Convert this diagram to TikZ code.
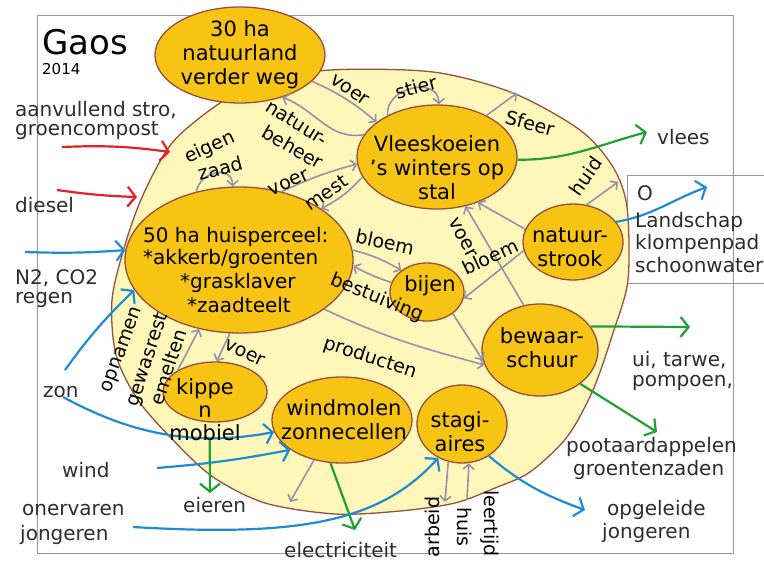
\documentclass[tikz,border=0pt]{standalone}
\usepackage{fontspec}
\setmainfont{DejaVu Sans}
\usetikzlibrary{arrows.meta,shapes.geometric}
\definecolor{org}{RGB}{247,196,20}
\definecolor{blobf}{RGB}{255,247,185}
\definecolor{brn}{RGB}{150,80,60}
\definecolor{gry}{RGB}{150,145,170}
\definecolor{grn}{RGB}{30,160,50}
\definecolor{blu}{RGB}{30,140,210}
\definecolor{rd}{RGB}{230,30,40}
\definecolor{txtgray}{RGB}{45,45,45}
\definecolor{frm}{RGB}{150,150,150}
\begin{document}
\begin{tikzpicture}[x=1pt,y=-1pt,
  ell/.style={ellipse,draw=brn,line width=1.3pt,fill=org,inner sep=0pt},
  ntxt/.style={font=\fontsize{21}{24}\selectfont,align=center,inner sep=0pt,text=black},
  htxt/.style={font=\fontsize{20}{22}\selectfont,inner sep=0pt,text=black,anchor=west},
  otxt/.style={font=\fontsize{20}{23}\selectfont,inner sep=0pt,text=txtgray,anchor=west},
  lbl/.style={font=\fontsize{19}{21}\selectfont,inner sep=0pt,text=black},
  garr/.style={draw=gry,line width=1.6pt,-{Straight Barb[length=5pt,width=11pt]}},
  carr/.style={line width=2.2pt,-{Straight Barb[length=8pt,width=20pt]}},
]
\useasboundingbox (0,0) rectangle (764,563);
\fill[white] (0,0) rectangle (764,563);
% frames
\draw[frm,line width=0.9pt] (37,15) rectangle (733,553);
\draw[frm,line width=0.9pt] (627,175) rectangle (790,283);
% blob
\draw[brn,line width=1.3pt,fill=blobf] plot[smooth cycle] coordinates {
 (217,105) (172,143) (143,195) (125,245) (112,300) (116,355) (138,400) (173,440)
 (213,477) (265,503) (335,514) (400,511) (455,503) (495,488) (530,472) (567,437)
 (593,390) (613,333) (628,280) (627,207) (613,167) (580,130) (513,93) (433,72)
 (330,70) (260,82)};
% nodes
\node[ell,minimum width=170pt,minimum height=96pt] (nat30) at (240,55) {};
\node[ell,minimum width=160pt,minimum height=104pt] (vk) at (437,157) {};
\node[ell,minimum width=228pt,minimum height=146pt] (hp) at (239,260) {};
\node[ell,minimum width=74pt,minimum height=58pt] (bij) at (427,292) {};
\node[ell,minimum width=100pt,minimum height=76pt] (ns) at (573,242) {};
\node[ell,minimum width=116pt,minimum height=92pt] (bs) at (540,350) {};
\node[ell,minimum width=104pt,minimum height=60pt] (kip) at (215,392) {};
\node[ell,minimum width=140pt,minimum height=86pt] (wm) at (342,420) {};
\node[ell,minimum width=90pt,minimum height=78pt] (st) at (462,424) {};
% free ends
\coordinate (sfe) at (517,93);
\coordinate (huidE) at (618,182);
\coordinate (vlees) at (647,132);
\coordinate (eier) at (210,493);
\coordinate (elec) at (355,530);
\coordinate (uit) at (690,327);
\coordinate (poot) at (657,432);
\coordinate (n2) at (25,252);
\coordinate (zonA) at (65,370);
\coordinate (zonB) at (63,397);
\coordinate (windA) at (157,468);
\coordinate (onerA) at (133,527);
\coordinate (opgel) at (585,510);
\coordinate (otwee) at (707,187);
\coordinate (aanvA) at (62,147);
\coordinate (aanvB) at (170,152);
\coordinate (dieA) at (57,190);
\coordinate (dieB) at (137,197);
\coordinate (wmb) at (290,502);
\coordinate (arb) at (445,502);
\coordinate (hui) at (467,500);
% gray connectors
\draw[garr] (nat30.-20) to[bend left=8] (vk.150);
\draw[garr] (vk.163) to[out=190,in=-20] (nat30.-45);
\draw[garr] (vk.140) to[out=95,in=90,looseness=1.4] (vk.88);
\draw[garr] (vk.40) -- (sfe);
\draw[garr] (ns.70) -- (huidE);
\draw[garr] (hp.122) to[out=80,in=90,looseness=1.5] (hp.95);
\draw[garr] (hp.58) to[bend left=5] (vk.185);
\draw[garr] (vk.195) to[bend left=10] (hp.32);
\draw[garr] (hp.5) to[bend left=8] (bij.140);
\draw[garr] (bij.165) to[bend left=5] (hp.-3);
\draw[garr] (ns.190) -- (bij.-10);
\draw[garr] (bs.110) -- (vk.-60);
\draw[garr] (ns.165) -- (vk.-48);
\draw[garr] (hp.-30) to[out=-25,in=165] (bs.195);
\draw[garr] (bij.-40) -- (bs.190);
\draw[garr] (hp.-97) -- (kip.87);
\draw[garr] (kip.150) -- (hp.-120);
\draw[garr] (wm.-125) -- (wmb);
\draw[garr] (st.-110) -- (arb);
\draw[garr] (hui) -- (st.-80);
% green
\draw[carr,draw=grn] (vk.-2) to[out=0,in=195] (vlees);
\draw[carr,draw=grn,shorten <=18pt] (kip.-100) -- (eier);
\draw[carr,draw=grn] (wm.-105) -- (elec);
\draw[carr,draw=grn] (bs.25) -- (uit);
\draw[carr,draw=grn] (bs.-40) -- (poot);
% blue
\draw[carr,draw=blu] (n2) to[bend right=3] (hp.175);
\draw[carr,draw=blu] (zonA) to[bend left=5] (hp.196);
\draw[carr,draw=blu] (zonB) .. controls (115,425) and (180,450) .. (wm.-170);
\draw[carr,draw=blu] (windA) to[bend right=3] (wm.-150);
\draw[carr,draw=blu] (onerA) .. controls (300,537) and (380,522) .. (st.-125);
\draw[carr,draw=blu] (st.-50) to[out=-40,in=160] (opgel);
\draw[carr,draw=blu] (ns.25) to[out=10,in=200] (otwee);
% red
\draw[carr,draw=rd] (aanvA) to[bend left=5] (aanvB);
\draw[carr,draw=rd] (dieA) to[bend right=3] (dieB);
% node texts
\node[ntxt] (nat30t) at (240,55) {30 ha\\natuurland\\verder weg};
\node[ntxt] (vkt) at (437,168) {Vleeskoeien\\'s winters op\\stal};
\node[htxt] (hp1) at (143,237) {50 ha huisperceel:};
\node[htxt] (hp2) at (143,259) {*akkerb/groenten};
\node[htxt] (hp3) at (180,283) {*grasklaver};
\node[htxt] (hp4) at (187,305) {*zaadteelt};
\node[ntxt] (bijt) at (430,286) {bijen};
\node[ntxt] (nst) at (570,247) {natuur-\\strook};
\node[ntxt] (bst) at (542,348) {bewaar-\\schuur};
\node[ntxt,font=\fontsize{21}{23}\selectfont] (kipt) at (205,410) {kippe\\n\\mobiel};
\node[ntxt] (wmt) at (344,420) {windmolen\\zonnecellen};
\node[ntxt] (stt) at (460,432) {stagi-\\aires};
% labels
\node[lbl,rotate=25] (l1) at (210,148) {eigen};
\node[lbl,rotate=15] (l2) at (220,168) {zaad};
\node[lbl,rotate=-32] (l3) at (297,123) {natuur-};
\node[lbl,rotate=-30] (l4) at (293,147) {beheer};
\node[lbl,rotate=-35] (l5) at (350,90) {voer};
\node[lbl,rotate=15] (l6) at (416,87) {stier};
\node[lbl,rotate=-15] (l7) at (530,123) {Sfeer};
\node[lbl,rotate=25] (l8) at (289,183) {voer};
\node[lbl,rotate=35] (l9) at (326,193) {mest};
\node[lbl,rotate=55] (l10) at (586,176) {huid};
\node[lbl,rotate=-62] (l11) at (463,238) {voer};
\node[lbl,rotate=25] (l12) at (490,257) {bloem};
\node[lbl,rotate=-12] (l13) at (385,242) {bloem};
\node[lbl,rotate=-22] (l14) at (377,298) {bestuiving};
\node[lbl,rotate=-18] (l15) at (370,358) {producten};
\node[lbl,rotate=-25] (l16) at (245,353) {voer};
\node[lbl,rotate=70] (l17) at (123,350) {opnamen};
\node[lbl,rotate=72] (l18) at (148,360) {gewasrest};
\node[lbl,rotate=72] (l19) at (168,367) {emelten};
\node[lbl,rotate=90] (l20) at (432,527) {arbeid};
\node[lbl,rotate=-90] (l21) at (465,527) {huis};
\node[lbl,rotate=-90,anchor=west] (l22) at (490,490) {leertijd};
% outside texts
\node[inner sep=0pt,anchor=west,font=\fontsize{34}{36}\selectfont] (gaos) at (42,42) {Gaos};
\node[inner sep=0pt,anchor=west,font=\fontsize{15}{17}\selectfont] (jaar) at (42,69) {2014};
\node[otxt] (o1) at (15,110) {aanvullend stro,};
\node[otxt] (o2) at (15,131) {groencompost};
\node[otxt] (o3) at (15,205) {diesel};
\node[otxt] (o4) at (15,278) {N2, CO2};
\node[otxt] (o5) at (15,300) {regen};
\node[otxt] (o6) at (43,392) {zon};
\node[otxt] (o7) at (62,470) {wind};
\node[otxt] (o8) at (22,510) {onervaren};
\node[otxt] (o9) at (20,535) {jongeren};
\node[otxt] (o10) at (183,505) {eieren};
\node[otxt] (o11) at (284,550) {electriciteit};
\node[otxt] (o12) at (657,137) {vlees};
\node[otxt] (o13) at (637,193) {O};
\node[otxt] (o14) at (635,222) {Landschap};
\node[otxt] (o15) at (635,244) {klompenpad};
\node[otxt] (o16) at (635,265) {schoonwater};
\node[otxt] (o17) at (632,360) {ui, tarwe,};
\node[otxt] (o18) at (632,383) {pompoen,};
\node[otxt] (o19) at (566,447) {pootaardappelen};
\node[otxt] (o20) at (573,470) {groentenzaden};
\node[otxt] (o21) at (607,510) {opgeleide};
\node[otxt] (o22) at (602,533) {jongeren};
\end{tikzpicture}
\end{document}
